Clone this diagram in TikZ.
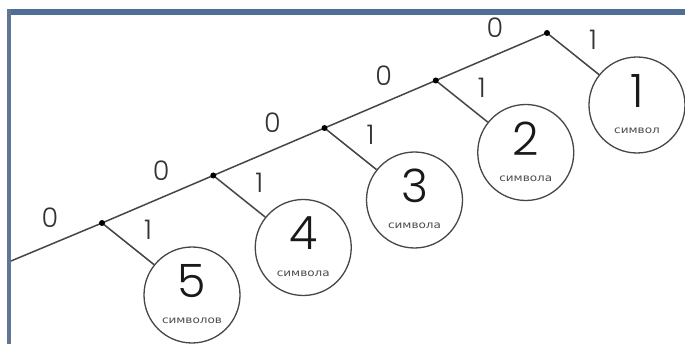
\documentclass[tikz,border=0pt]{standalone}
\usepackage{fontspec}
\usetikzlibrary{calc}
\setmainfont{DejaVu Sans}
\newfontfamily\digitfont{Poppins Light}
\newfontfamily\capfont{DejaVu Sans}[FakeStretch=1.2]
\definecolor{framebar}{RGB}{78,110,150}
\definecolor{frameside}{RGB}{96,118,148}
\definecolor{ink}{RGB}{70,70,70}
\begin{document}
\begin{tikzpicture}[x=1pt,y=-1pt,
  edge/.style={draw=ink,line width=1.5pt},
  dot/.style={circle,fill=black,inner sep=0pt,minimum size=6pt},
  bubble/.style={circle,draw=ink,line width=1.3pt,minimum size=96pt,inner sep=0pt},
  bit/.style={font=\digitfont\fontsize{27}{27}\selectfont,text=black!80},
  count/.style={font=\digitfont\fontsize{46}{46}\selectfont,text=black!90},
  word/.style={font=\capfont\fontsize{10}{10}\selectfont,text=black!70}]
  \useasboundingbox (0,0) rectangle (685,344);
  \fill[white] (0,0) rectangle (685,344);
  % window frame
  \fill[framebar] (7,9) rectangle (685,15);
  \fill[frameside] (7,9) rectangle (11,344);

  % branching points on the main line
  \coordinate (start) at (11,261);
  \foreach \k in {1,...,5} {
    \coordinate (d\k) at ({102+111.25*(5-\k)},{223-47.5*(5-\k)});
  }
  % leaf circles
  \foreach \k/\w in {1/символ,2/символа,3/символа,4/символа,5/символов} {
    \node[bubble] (c\k) at ($(d\k)+(90,72)$) {};
    \node[count] (n\k) at ($(c\k)+(0,-14)$) {\k};
    \node[word] (w\k) at ($(c\k)+(0,26)$) {\w};
    \node[bit] (z\k) at ($(d\k)+(-52,-5)$) {0};
    \node[bit] (o\k) at ($(d\k)+(46,7)$) {1};
  }
  \draw[edge] (start) -- (d5) -- (d4) -- (d3) -- (d2) -- (d1);
  \foreach \k in {1,...,5} {
    \draw[edge] (d\k) -- (c\k);
    \node[dot] at (d\k) {};
  }
\end{tikzpicture}
\end{document}
